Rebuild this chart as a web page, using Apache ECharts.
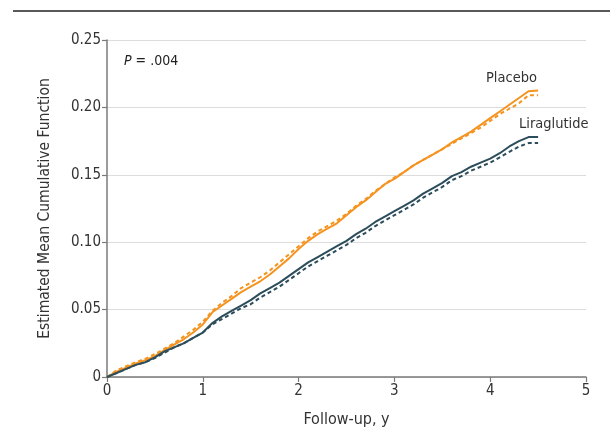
<!DOCTYPE html>
<html>
<head>
<meta charset="utf-8">
<script src="https://cdn.jsdelivr.net/npm/echarts@6/dist/echarts.min.js"></script>
<style>
html,body{margin:0;padding:0;background:#fff;}
#c{width:610px;height:442px;}
</style>
</head>
<body>
<div id="c"></div>
<script>
var years = [0,0.1,0.2,0.3,0.4,0.5,0.6,0.7,0.8,0.9,1.0,1.1,1.2,1.3,1.4,1.5,1.6,1.7,1.8,1.9,2.0,2.1,2.2,2.3,2.4,2.5,2.6,2.7,2.8,2.9,3.0,3.1,3.2,3.3,3.4,3.5,3.6,3.7,3.8,3.9,4.0,4.1,4.2,4.3,4.4,4.5];
var placeboSolid = [0,0.004,0.007,0.010,0.0125,0.0155,0.020,0.024,0.028,0.033,0.039,0.048,0.053,0.058,0.063,0.067,0.071,0.076,0.082,0.088,0.095,0.101,0.106,0.110,0.114,0.120,0.126,0.131,0.137,0.143,0.147,0.152,0.157,0.161,0.165,0.169,0.174,0.178,0.182,0.187,0.192,0.197,0.202,0.207,0.212,0.2125];
var placeboDashed = [0,0.005,0.008,0.011,0.0135,0.017,0.021,0.025,0.030,0.035,0.041,0.049,0.055,0.060,0.066,0.070,0.074,0.079,0.085,0.091,0.097,0.103,0.108,0.112,0.116,0.121,0.127,0.132,0.138,0.143,0.148,0.152,0.157,0.161,0.165,0.169,0.173,0.177,0.181,0.185,0.190,0.195,0.199,0.203,0.209,0.209];
var liraSolid = [0,0.003,0.006,0.009,0.011,0.0145,0.019,0.022,0.025,0.029,0.033,0.040,0.045,0.049,0.053,0.057,0.062,0.066,0.070,0.075,0.080,0.085,0.089,0.093,0.097,0.101,0.106,0.110,0.115,0.119,0.123,0.127,0.131,0.136,0.140,0.144,0.149,0.152,0.156,0.159,0.162,0.166,0.171,0.175,0.178,0.178];
var liraDashed = [0,0.003,0.006,0.009,0.011,0.014,0.018,0.022,0.025,0.029,0.033,0.039,0.043,0.047,0.051,0.054,0.059,0.063,0.067,0.072,0.077,0.082,0.086,0.090,0.094,0.098,0.103,0.107,0.112,0.116,0.120,0.124,0.128,0.133,0.137,0.141,0.146,0.149,0.153,0.156,0.159,0.163,0.167,0.171,0.1735,0.1735];
var xTicks = [0,1,2,3,4,5];
var yTicks = [0,0.05,0.10,0.15,0.20,0.25];

var ORANGE = '#F5931F', TEAL = '#2C4D5B';
var FONT = 'DejaVu Sans Condensed';
function pairs(v){ return years.map(function(t,i){ return [t, v[i]]; }); }

var chart = echarts.init(document.getElementById('c'));
chart.setOption({
  animation:false,
  textStyle:{fontFamily:FONT},
  grid:{left:107,right:24,top:40,bottom:65},
  xAxis:{
    type:'value',min:0,max:5,interval:1,
    name:'Follow-up, y',nameLocation:'middle',nameGap:35,
    nameTextStyle:{fontFamily:FONT,fontSize:16,color:'#333'},
    axisLine:{lineStyle:{color:'#7a7a7a',width:1.5}},
    axisTick:{show:true,length:5,lineStyle:{color:'#7a7a7a',width:1.2}},
    axisLabel:{fontFamily:FONT,fontSize:15,color:'#333',margin:7},
    splitLine:{show:false}
  },
  yAxis:{
    type:'value',min:0,max:0.25,interval:0.05,
    name:'Estimated Mean Cumulative Function',nameLocation:'middle',nameGap:54,
    nameTextStyle:{fontFamily:FONT,fontSize:15.5,color:'#333'},
    axisLine:{show:true,lineStyle:{color:'#7a7a7a',width:1.5}},
    axisTick:{show:true,length:5,lineStyle:{color:'#7a7a7a',width:1.2}},
    axisLabel:{fontFamily:FONT,fontSize:15,color:'#333',margin:6,
      formatter:function(v){ return v===0 ? '0' : v.toFixed(2); }},
    splitLine:{show:true,lineStyle:{color:'#dcdcdc',width:1}}
  },
  series:[
    {type:'line',data:pairs(placeboDashed),showSymbol:false,lineStyle:{color:ORANGE,width:2,type:[4,3]},z:2},
    {type:'line',data:pairs(placeboSolid),showSymbol:false,lineStyle:{color:ORANGE,width:2},z:3},
    {type:'line',data:pairs(liraDashed),showSymbol:false,lineStyle:{color:TEAL,width:2,type:[4,3]},z:2},
    {type:'line',data:pairs(liraSolid),showSymbol:false,lineStyle:{color:TEAL,width:2},z:3}
  ],
  graphic:[
    {type:'line',shape:{x1:13,y1:11,x2:610,y2:11},style:{stroke:'#222',lineWidth:1.5}},
    {type:'text',left:124,top:54,style:{rich:{i:{fontStyle:'italic',fontFamily:FONT,fontSize:14,fill:'#222'},n:{fontFamily:FONT,fontSize:14,fill:'#222'}},text:'{i|P}{n| = .004}'}},
    {type:'text',left:486,top:71,style:{text:'Placebo',fontFamily:FONT,fontSize:14.5,fill:'#333'}},
    {type:'text',left:519,top:117,style:{text:'Liraglutide',fontFamily:FONT,fontSize:14.5,fill:'#333'}}
  ]
});
</script>
</body>
</html>
